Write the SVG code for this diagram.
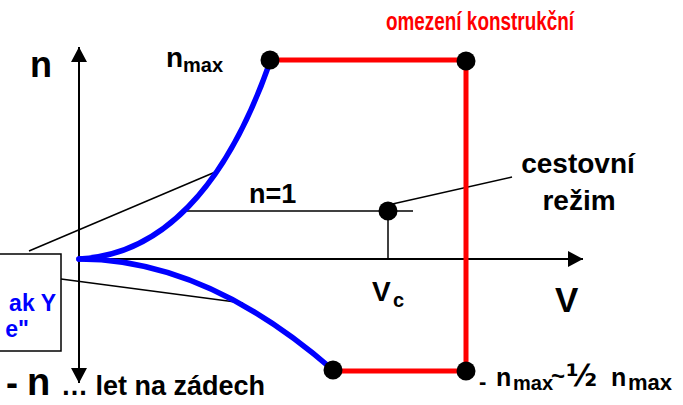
<svg xmlns="http://www.w3.org/2000/svg" width="683" height="405" viewBox="0 0 683 405">
<style>
text{font-family:"Liberation Sans",Arial,sans-serif;font-weight:bold;fill:#000}
.red{fill:#ff0000}
.blue{fill:#0000ff}
.thin{stroke:#000;stroke-width:1.5;fill:none}
.axis{stroke:#000;stroke-width:2;fill:none}
.env{stroke:#ff0000;stroke-width:5;fill:none}
.curve{stroke:#0000ff;stroke-width:5.5;fill:none;stroke-linecap:round}
.dot{fill:#000}
</style>
<defs>
<marker id="arr" markerWidth="16" markerHeight="16" viewBox="0 0 16 16" refX="15" refY="8" orient="auto" markerUnits="userSpaceOnUse">
<path d="M0,0 L15,8 L0,16 Z" fill="#000"/>
</marker>
</defs>
<g id="axes">
<line class="axis" x1="79" y1="259" x2="79" y2="47" marker-end="url(#arr)"/>
<line class="axis" x1="79" y1="259" x2="79" y2="383" marker-end="url(#arr)"/>
<line class="axis" x1="79" y1="259" x2="583" y2="259" marker-end="url(#arr)"/>
</g>
<g id="connectors">
<line class="thin" x1="182" y1="211" x2="413" y2="211"/>
<line class="thin" x1="388" y1="211" x2="388" y2="259"/>
<line class="thin" x1="388" y1="205" x2="512" y2="177"/>
<line class="thin" x1="29" y1="251" x2="220" y2="170"/>
<line class="thin" x1="61" y1="279" x2="243" y2="303"/>
</g>
<g id="envelope">
<polyline class="env" points="270,60 466,60 466,371 333,371"/>
<path class="curve" d="M79,259 C160,255 225,190 270,62"/>
<path class="curve" d="M79,259 Q206,259 333,370"/>
</g>
<g id="points">
<circle class="dot" cx="270" cy="60" r="9.5"/>
<circle class="dot" cx="466" cy="61" r="9.5"/>
<circle class="dot" cx="466" cy="371" r="9.5"/>
<circle class="dot" cx="333" cy="370" r="9.5"/>
<circle class="dot" cx="388" cy="211" r="9.5"/>
</g>
<g id="note-box">
<rect x="-10" y="254" width="71" height="97" fill="#fff" stroke="#000" stroke-width="1.5"/>
<text class="blue" x="56" y="311" font-size="23" text-anchor="end">ak Y</text>
<text class="blue" x="29" y="337" font-size="23" text-anchor="end">e"</text>
</g>
<g id="labels">
<text x="386" y="30" font-size="25" class="red" textLength="188" lengthAdjust="spacingAndGlyphs">omezení konstrukční</text>
<text x="30" y="77" font-size="36">n</text>
<text x="166" y="67" font-size="28">n</text>
<text x="183" y="72" font-size="20">max</text>
<text x="249" y="203" font-size="27">n=1</text>
<text x="578" y="173" font-size="28" text-anchor="middle">cestovní</text>
<text x="579" y="210" font-size="28" text-anchor="middle">režim</text>
<text x="372" y="301" font-size="28">V</text>
<text x="393" y="307" font-size="20">c</text>
<text x="555" y="312" font-size="35">V</text>
<text x="6" y="395" font-size="36">-</text>
<text x="27" y="395" font-size="38">n</text>
<text x="61" y="395" font-size="27">… let na zádech</text>
<text x="479" y="389" font-size="22">-</text>
<text x="496" y="386" font-size="25">n</text>
<text x="513" y="390" font-size="20">max</text>
<text x="551" y="384" font-size="24">~</text>
<text x="566" y="386" font-size="30" style="font-family:'DejaVu Sans',sans-serif">½</text>
<text x="611" y="386" font-size="25">n</text>
<text x="628" y="390" font-size="22">max</text>
</g>
</svg>
